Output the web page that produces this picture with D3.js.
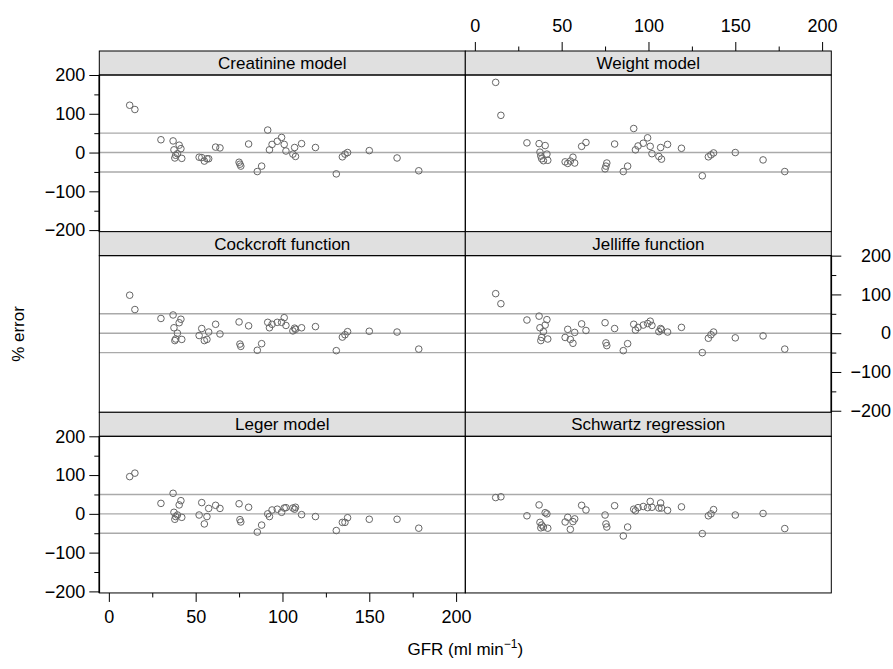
<!DOCTYPE html>
<html>
<head>
<meta charset="utf-8">
<script src="https://cdn.jsdelivr.net/npm/d3@7"></script>
<style>
  body { margin: 0; background: #fff; }
  svg { font-family: "Liberation Sans", Arial, Helvetica, sans-serif; }
</style>
</head>
<body>
<svg id="chart" width="893" height="669"></svg>
<script>
// GFR (ml/min) shared by every panel
const gfr = [12, 15, 30, 37, 37.5, 38, 38.5, 39.5, 40.5, 41.5, 42, 52, 53.5, 55, 56.5, 57.5, 61.5, 64,
  75, 75.5, 76, 80.5, 85.5, 88, 91.5, 92.5, 94, 97, 99.5, 101, 102, 106, 107, 107.5, 111, 119,
  131, 134.5, 136, 137.5, 150, 166, 178.5]

// % error per model, same order as gfr
const creatinine = [122, 111, 33, 30, 7, -14, -7, -3, 19, 10, -15, -12, -13, -22, -16, -16, 14, 12,
  -25, -30, -35, 22, -49, -35, 58, 7, 21, 29, 39, 21, 4, -4, 13, -10, 23, 13,
  -55, -11, -4, 0, 5, -14, -47]
const weight = [181, 96, 25, 23, 1, -9, -16, -21, 18, -4, -20, -24, -28, -22, -12, -27, 16, 26,
  -42, -35, -27, 22, -49, -35, 62, 7, 17, 24, 38, 16, -3, -10, 13, -17, 21, 11,
  -60, -11, -6, -1, 0, -19, -49]
const cockcroft = [98, 61, 38, 47, 14, -19, -15, 0, 27, 36, -16, -6, 12, -19, -16, 3, 23, -2,
  29, -28, -34, 19, -44, -27, 28, 14, 23, 28, 28, 40, 20, 6, 13, 10, 14, 17,
  -45, -10, -4, 4, 5, 3, -41]
const jelliffe = [102, 76, 34, 44, 14, -19, -11, 4, 21, 35, -15, -11, 10, -16, -26, 2, 24, 7,
  27, -25, -32, 12, -45, -27, 23, 8, 15, 21, 25, 31, 20, 4, 12, 9, 3, 15,
  -50, -13, -4, 3, -12, -7, -41]
const leger = [96, 105, 27, 53, 4, -14, -7, -3, 23, 34, -9, -3, 29, -26, -7, 14, 22, 14,
  26, -15, -21, 17, -47, -29, 0, -7, 10, 12, 4, 15, 16, 15, 12, 17, -2, -7,
  -43, -22, -22, -10, -14, -14, -37]
const schwartz = [42, 44, -5, 23, -22, -36, -29, -34, 3, 0, -37, -21, -9, -40, -20, -13, 22, 10,
  -3, -26, -34, 21, -57, -34, 12, 8, 16, 19, 16, 32, 17, 15, 28, 15, 9, 18,
  -51, -5, 0, 11, -3, 1, -38]

const panelNames = ['Creatinine model', 'Weight model', 'Cockcroft function', 'Jelliffe function',
  'Leger model', 'Schwartz regression']
const panelValues = [creatinine, weight, cockcroft, jelliffe, leger, schwartz]

const xTicks = [0, 50, 100, 150, 200]
const xMinor = [25, 75, 125, 175]
const yTicks = [-200, -100, 0, 100, 200]
const yMinor = [-150, -50, 50, 150]
const refLines = [-50, 0, 50]

const svg = d3.select('#chart')
const colX = [99.3, 465.3]
const rowY = [51, 231.65, 412.3]
const panelW = 366
const stripH = 24
const panelH = 156.65

const x = d3.scaleLinear().domain([-5.5, 205.3]).range([0, panelW])
const y = d3.scaleLinear().domain([-204, 200]).range([panelH, 0])

const fontSize = 17
const tickFont = 18

function styleAxis (g) {
  g.select('.domain').remove()
  g.selectAll('.tick line').attr('stroke', '#000').attr('stroke-width', 1)
  g.selectAll('.tick text').attr('font-size', tickFont).attr('fill', '#000')
    .attr('font-family', '"Liberation Sans", Arial, Helvetica, sans-serif')
}

panelNames.forEach((name, i) => {
  const row = Math.floor(i / 2)
  const col = i % 2
  const g = svg.append('g')
    .attr('transform', `translate(${colX[col]},${rowY[row]})`)

  // strip
  g.append('rect')
    .attr('width', panelW).attr('height', stripH)
    .attr('fill', '#e0e0e0').attr('stroke', '#000').attr('stroke-width', 1)
  g.append('text')
    .attr('x', panelW / 2).attr('y', stripH / 2 + 6)
    .attr('text-anchor', 'middle')
    .attr('font-size', fontSize)
    .text(name)

  const p = g.append('g').attr('transform', `translate(0,${stripH})`)

  p.selectAll('line.ref').data(refLines).enter().append('line')
    .attr('class', 'ref')
    .attr('x1', 0).attr('x2', panelW)
    .attr('y1', d => y(d)).attr('y2', d => y(d))
    .attr('stroke', '#aaa').attr('stroke-width', 1.4)

  const vals = panelValues[i]
  p.selectAll('circle').data(gfr.map((g, k) => [g, vals[k]])).enter().append('circle')
    .attr('cx', d => x(d[0])).attr('cy', d => y(d[1]))
    .attr('r', 3.3)
    .attr('fill', 'none').attr('stroke', '#666').attr('stroke-width', 1)

  p.append('rect')
    .attr('width', panelW).attr('height', panelH)
    .attr('fill', 'none').attr('stroke', '#000').attr('stroke-width', 1)

  // axes alternate like lattice
  if (col === 0 && row !== 1) {
    p.append('g').call(d3.axisLeft(y).tickValues(yTicks).tickSize(10).tickPadding(4)).call(styleAxis)
    p.append('g').call(d3.axisLeft(y).tickValues(yMinor).tickSize(5).tickFormat('')).call(styleAxis)
    p.append('line').attr('x1', 0).attr('x2', 0).attr('y1', 0).attr('y2', panelH)
      .attr('stroke', '#000').attr('stroke-width', 1.6)
  }
  if (col === 1 && row === 1) {
    const ax = p.append('g').attr('transform', `translate(${panelW},0)`)
      .call(d3.axisRight(y).tickValues(yTicks).tickSize(10)).call(styleAxis)
    ax.selectAll('.tick text').attr('text-anchor', 'end').attr('x', 893 - 2 - colX[1] - panelW)
    p.append('g').attr('transform', `translate(${panelW},0)`)
      .call(d3.axisRight(y).tickValues(yMinor).tickSize(5).tickFormat('')).call(styleAxis)
    p.append('line').attr('x1', panelW).attr('x2', panelW).attr('y1', 0).attr('y2', panelH)
      .attr('stroke', '#000').attr('stroke-width', 1.6)
  }
  if (col === 1 && row === 0) {
    g.append('g').call(d3.axisTop(x).tickValues(xTicks).tickSize(9).tickPadding(10)).call(styleAxis)
    g.append('g').call(d3.axisTop(x).tickValues(xMinor).tickSize(4.5).tickFormat('')).call(styleAxis)
  }
  if (col === 0 && row === 2) {
    p.append('g').attr('transform', `translate(0,${panelH})`)
      .call(d3.axisBottom(x).tickValues(xTicks).tickSize(9).tickPadding(8)).call(styleAxis)
    p.append('g').attr('transform', `translate(0,${panelH})`)
      .call(d3.axisBottom(x).tickValues(xMinor).tickSize(4.5).tickFormat('')).call(styleAxis)
  }
})

// axis titles
const xt = svg.append('text')
  .attr('x', (colX[0] + colX[1] + panelW) / 2).attr('y', 655)
  .attr('text-anchor', 'middle').attr('font-size', fontSize)
xt.append('tspan').text('GFR (ml min')
xt.append('tspan').attr('font-size', 12).attr('dy', -7).text('\u22121')
xt.append('tspan').attr('dy', 7).text(')')

svg.append('text')
  .attr('transform', `translate(24,${rowY[1] + stripH + panelH / 2}) rotate(-90)`)
  .attr('text-anchor', 'middle').attr('font-size', fontSize)
  .text('% error')
</script>
</body>
</html>
